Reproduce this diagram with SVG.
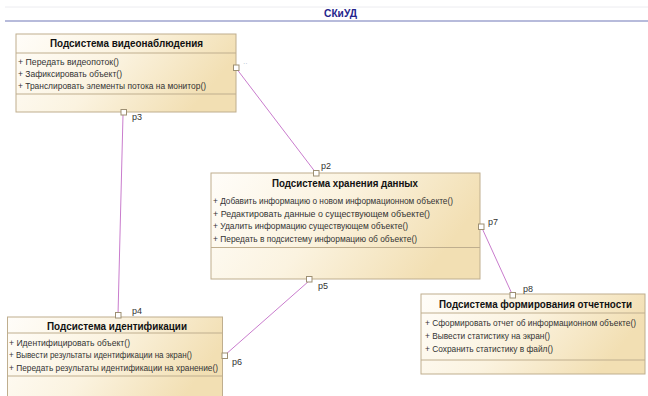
<svg xmlns="http://www.w3.org/2000/svg" width="648" height="396" viewBox="0 0 648 396">
<style>
.box{fill:url(#g);stroke:#bfae8e;stroke-width:1}
.sep{stroke:#bfae8e;stroke-width:1}
.hd{font-family:"Liberation Sans",Arial,sans-serif;font-size:10px;font-weight:bold;fill:#111}
.op{font-family:"Liberation Sans",Arial,sans-serif;font-size:8.5px;fill:#333}
.pl{font-family:"Liberation Sans",Arial,sans-serif;font-size:9px;fill:#333}
.port{fill:#fff;stroke:#9d8f73;stroke-width:1}
.con{stroke:#c97ccd;stroke-width:1;fill:none}
</style>
<defs>
<linearGradient id="g" x1="0" y1="0" x2="1" y2="0.3">
<stop offset="0" stop-color="#fffdf9"/>
<stop offset="0.5" stop-color="#fbf3e0"/>
<stop offset="1" stop-color="#f2dfb3"/>
</linearGradient>
</defs>
<rect x="0" y="0" width="648" height="396" fill="#fff"/>
<line x1="5" y1="7" x2="648" y2="7" stroke="#ececf0" stroke-width="1"/>
<text x="324" y="17" textLength="33" lengthAdjust="spacingAndGlyphs" style="font-family:'Liberation Sans',Arial,sans-serif;font-size:10px;font-weight:bold;fill:#24248c">СКиУД</text>
<line x1="5" y1="21" x2="648" y2="21" stroke="#9fa4cf" stroke-width="1.5"/>

<g id="connectors">
<line class="con" x1="236" y1="68" x2="316" y2="173"/>
<line class="con" x1="123" y1="115" x2="118" y2="315"/>
<line class="con" x1="309" y1="281" x2="225" y2="355"/>
<line class="con" x1="481.5" y1="227" x2="512.5" y2="295"/>
</g>

<g id="video">
<rect class="box" x="16" y="34" width="220" height="78"/>
<line class="sep" x1="16" y1="53" x2="236" y2="53"/>
<line class="sep" x1="16" y1="94" x2="236" y2="94"/>
<text class="hd" x="50" y="47" textLength="153" lengthAdjust="spacingAndGlyphs">Подсистема видеонаблюдения</text>
<text class="op" x="18" y="64.5" textLength="101" lengthAdjust="spacingAndGlyphs">+ Передать видеопоток()</text>
<text class="op" x="18" y="76.5" textLength="104" lengthAdjust="spacingAndGlyphs">+ Зафиксировать объект()</text>
<text class="op" x="18" y="88.5" textLength="188" lengthAdjust="spacingAndGlyphs">+ Транслировать элементы потока на монитор()</text>
<rect class="port" x="233.5" y="65" width="5.5" height="5.5"/>
<text x="243" y="66" style="font-family:'Liberation Sans',Arial,sans-serif;font-size:7px;fill:#aab8c8">··</text>
<rect class="port" x="121" y="109.5" width="5.5" height="5.5"/>
<text class="pl" x="132" y="120">p3</text>
</g>

<g id="storage">
<rect class="box" x="211" y="173" width="269" height="106"/>
<line class="sep" x1="211" y1="247.5" x2="480" y2="247.5"/>
<text class="hd" x="272" y="187" textLength="146" lengthAdjust="spacingAndGlyphs">Подсистема хранения данных</text>
<text class="op" x="213" y="204" textLength="240" lengthAdjust="spacingAndGlyphs">+ Добавить информацию о новом информационном объекте()</text>
<text class="op" x="213" y="216.5" textLength="217" lengthAdjust="spacingAndGlyphs">+ Редактировать данные о существующем объекте()</text>
<text class="op" x="213" y="229" textLength="195" lengthAdjust="spacingAndGlyphs">+ Удалить информацию существующем объекте()</text>
<text class="op" x="213" y="242" textLength="204" lengthAdjust="spacingAndGlyphs">+ Передать в подсистему информацию об объекте()</text>
<rect class="port" x="313.5" y="170.5" width="5.5" height="5.5"/>
<text class="pl" x="321" y="169">p2</text>
<rect class="port" x="306.5" y="276.5" width="5.5" height="5.5"/>
<text class="pl" x="318" y="289">p5</text>
<rect class="port" x="478.5" y="224" width="5.5" height="5.5"/>
<text class="pl" x="488" y="225">p7</text>
</g>

<g id="ident">
<rect class="box" x="7.5" y="317" width="215" height="90"/>
<line class="sep" x1="7.5" y1="333" x2="222.5" y2="333"/>
<line class="sep" x1="7.5" y1="376" x2="222.5" y2="376"/>
<text class="hd" x="47" y="329.5" textLength="140" lengthAdjust="spacingAndGlyphs">Подсистема идентификации</text>
<text class="op" x="9" y="345.5" textLength="121" lengthAdjust="spacingAndGlyphs">+ Идентифицировать объект()</text>
<text class="op" x="9" y="358" textLength="183" lengthAdjust="spacingAndGlyphs">+ Вывести результаты идентификации на экран()</text>
<text class="op" x="9" y="370.5" textLength="209" lengthAdjust="spacingAndGlyphs">+ Передать результаты идентификации на хранение()</text>
<rect class="port" x="115.5" y="312.5" width="5.5" height="5.5"/>
<text class="pl" x="132" y="314">p4</text>
<rect class="port" x="222" y="353" width="5.5" height="5.5"/>
<text class="pl" x="232" y="365">p6</text>
</g>

<g id="report">
<rect class="box" x="421" y="294" width="224" height="80"/>
<line class="sep" x1="421" y1="313" x2="645" y2="313"/>
<line class="sep" x1="421" y1="360" x2="645" y2="360"/>
<text class="hd" x="439" y="308" textLength="193" lengthAdjust="spacingAndGlyphs">Подсистема формирования отчетности</text>
<text class="op" x="425" y="325.8" textLength="211" lengthAdjust="spacingAndGlyphs">+ Сформировать отчет об информационном объекте()</text>
<text class="op" x="425" y="338.5" textLength="125" lengthAdjust="spacingAndGlyphs">+ Вывести статистику на экран()</text>
<text class="op" x="425" y="351.5" textLength="128" lengthAdjust="spacingAndGlyphs">+ Сохранить статистику в файл()</text>
<rect class="port" x="510" y="292.5" width="5.5" height="5.5"/>
<text class="pl" x="523" y="292">p8</text>
</g>
</svg>
